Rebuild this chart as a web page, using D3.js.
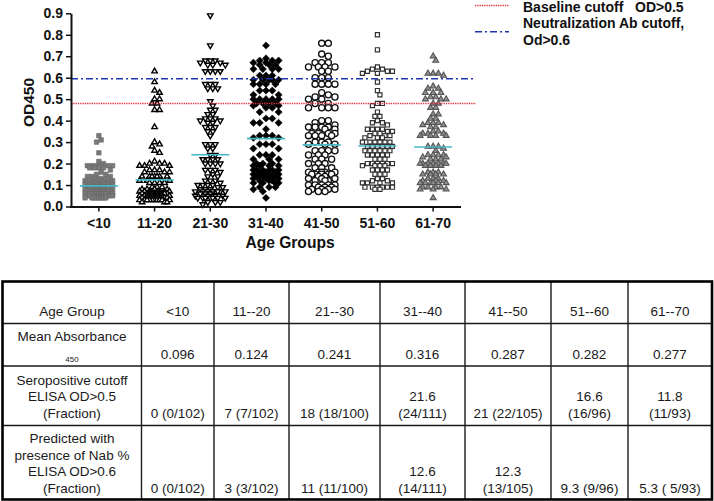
<!DOCTYPE html>
<html>
<head>
<meta charset="utf-8">
<script src="https://cdn.jsdelivr.net/npm/d3@7"></script>
<style>
  body { margin: 0; background: #fff; }
  svg { display: block; font-family: "Liberation Sans", Arial, sans-serif; }
  .tick text { font-weight: bold; font-size: 14px; fill: #111; }
</style>
</head>
<body>
<svg id="chart" width="714" height="501"></svg>
<script>
// ---- data ----
const groups = ['<10', '11-20', '21-30', '31-40', '41-50', '51-60', '61-70'];
const yTicks = [0, 0.1, 0.2, 0.3, 0.4, 0.5, 0.6, 0.7, 0.8, 0.9];

const odUnder10 = [0.33, 0.31, 0.30, 0.25, 0.21, 0.20,
  0.19, 0.19, 0.19, 0.19, 0.19, 0.19, 0.18, 0.18, 0.18, 0.18, 0.17, 0.16, 0.15, 0.15,
  0.14, 0.14, 0.14, 0.13, 0.13, 0.13, 0.13, 0.12, 0.12, 0.12, 0.12, 0.12,
  0.11, 0.11, 0.11, 0.11, 0.11, 0.11, 0.10, 0.10, 0.10, 0.10, 0.10, 0.10, 0.10,
  0.09, 0.09, 0.09, 0.09, 0.09, 0.09, 0.09, 0.09, 0.08, 0.08, 0.08, 0.08, 0.08, 0.08, 0.08, 0.08, 0.08,
  0.07, 0.07, 0.07, 0.07, 0.07, 0.07, 0.07, 0.07, 0.07, 0.07,
  0.06, 0.06, 0.06, 0.06, 0.06, 0.06, 0.06, 0.06, 0.06, 0.06,
  0.05, 0.05, 0.05, 0.05, 0.05, 0.05, 0.05, 0.05, 0.05, 0.05, 0.05, 0.05,
  0.04, 0.04, 0.04, 0.04, 0.04, 0.04, 0.04, 0.04];
const od11to20 = [0.63, 0.58, 0.54, 0.53, 0.50, 0.50, 0.48, 0.48, 0.45, 0.45,
  0.37, 0.30, 0.29, 0.28, 0.26, 0.25, 0.21, 0.20, 0.20, 0.19, 0.19, 0.20, 0.19,
  0.17, 0.17, 0.16, 0.16, 0.17, 0.16, 0.14, 0.14, 0.14, 0.14, 0.14, 0.14, 0.14,
  0.12, 0.12, 0.12, 0.12, 0.11, 0.11, 0.11, 0.11, 0.09, 0.09, 0.09, 0.08, 0.08, 0.08, 0.08,
  0.07, 0.07, 0.07, 0.07, 0.07, 0.07, 0.07, 0.07,
  0.06, 0.06, 0.06, 0.06, 0.06, 0.06, 0.06, 0.06, 0.06, 0.06,
  0.05, 0.05, 0.05, 0.05, 0.05, 0.05, 0.05, 0.05, 0.05, 0.05,
  0.04, 0.04, 0.04, 0.04, 0.04, 0.04, 0.04, 0.04, 0.04, 0.04,
  0.03, 0.03, 0.03, 0.03, 0.03, 0.03, 0.03, 0.03, 0.03, 0.03, 0.02, 0.02, 0.02];
const od21to30 = [0.89, 0.75, 0.68, 0.68, 0.67, 0.67, 0.68, 0.66, 0.66, 0.66,
  0.63, 0.63, 0.63, 0.63, 0.57, 0.57, 0.57, 0.55, 0.55, 0.55, 0.49, 0.47, 0.45, 0.45,
  0.43, 0.43, 0.41, 0.41, 0.41, 0.40, 0.40, 0.39, 0.39, 0.37, 0.37, 0.37, 0.35, 0.35, 0.33,
  0.29, 0.29, 0.29, 0.27, 0.27, 0.24, 0.24, 0.22, 0.22, 0.22, 0.22, 0.20, 0.20, 0.20, 0.20,
  0.17, 0.17, 0.17, 0.15, 0.16, 0.14, 0.14, 0.12, 0.12, 0.11, 0.12, 0.10, 0.10, 0.10, 0.10,
  0.08, 0.09, 0.08, 0.09, 0.08, 0.07, 0.07, 0.07, 0.07, 0.07, 0.07, 0.07, 0.07,
  0.05, 0.06, 0.05, 0.06, 0.05, 0.06, 0.05, 0.04, 0.04, 0.04, 0.04, 0.04, 0.04, 0.04,
  0.02, 0.02, 0.02, 0.01];
const od31to40 = [0.75, 0.69, 0.68, 0.67, 0.68, 0.67, 0.68, 0.66, 0.66, 0.66,
  0.64, 0.64, 0.64, 0.64, 0.61, 0.61, 0.61, 0.59, 0.59, 0.59, 0.59, 0.59,
  0.57, 0.57, 0.57, 0.57, 0.54, 0.54, 0.54, 0.52, 0.52, 0.50, 0.50, 0.50, 0.50, 0.50,
  0.48, 0.48, 0.48, 0.48, 0.46, 0.47, 0.46, 0.47, 0.44, 0.44, 0.41, 0.41, 0.39, 0.39, 0.39,
  0.36, 0.33, 0.33, 0.33, 0.32, 0.32, 0.29, 0.29, 0.29, 0.27, 0.27, 0.24, 0.24, 0.24,
  0.22, 0.22, 0.22, 0.20, 0.20, 0.20, 0.19, 0.19, 0.19, 0.19,
  0.17, 0.17, 0.17, 0.17, 0.17, 0.17, 0.15, 0.16, 0.15, 0.16, 0.15, 0.16, 0.15,
  0.14, 0.14, 0.14, 0.14, 0.14, 0.14, 0.14, 0.12, 0.13, 0.12, 0.13, 0.12, 0.13,
  0.11, 0.11, 0.11, 0.11, 0.09, 0.09, 0.09, 0.07, 0.08, 0.04];
const od41to50 = [0.76, 0.76, 0.71, 0.70, 0.67, 0.67, 0.67, 0.65, 0.65, 0.65, 0.65,
  0.63, 0.63, 0.60, 0.60, 0.60, 0.57, 0.57, 0.57, 0.57, 0.53, 0.51, 0.52, 0.51,
  0.50, 0.50, 0.48, 0.48, 0.46, 0.46, 0.46, 0.46, 0.40, 0.40, 0.38, 0.39,
  0.37, 0.37, 0.37, 0.37, 0.36, 0.36, 0.34, 0.34, 0.34, 0.34, 0.33, 0.33, 0.33, 0.33,
  0.30, 0.30, 0.30, 0.29, 0.29, 0.29, 0.26, 0.26, 0.26, 0.26, 0.24, 0.24, 0.24,
  0.22, 0.22, 0.22, 0.20, 0.20, 0.20, 0.18, 0.18, 0.18,
  0.16, 0.16, 0.16, 0.16, 0.16, 0.15, 0.15, 0.15, 0.15, 0.15, 0.14, 0.14,
  0.12, 0.13, 0.12, 0.13, 0.12, 0.13, 0.10, 0.10, 0.10, 0.10, 0.10,
  0.08, 0.09, 0.08, 0.09, 0.08, 0.09, 0.08, 0.07, 0.07, 0.07];
const od51to60 = [0.80, 0.73, 0.65, 0.63, 0.64, 0.63, 0.64, 0.63, 0.62, 0.62,
  0.58, 0.54, 0.52, 0.48, 0.48, 0.47, 0.44, 0.42, 0.42, 0.38, 0.39, 0.40, 0.39,
  0.36, 0.36, 0.36, 0.36, 0.34, 0.35, 0.34, 0.35, 0.32, 0.33, 0.32, 0.33, 0.32, 0.33,
  0.30, 0.30, 0.30, 0.30, 0.30, 0.30, 0.28, 0.28, 0.28, 0.28, 0.28, 0.28,
  0.26, 0.26, 0.26, 0.26, 0.26, 0.26, 0.24, 0.24, 0.24, 0.24, 0.24, 0.22, 0.22, 0.22,
  0.20, 0.20, 0.20, 0.20, 0.20, 0.20, 0.19, 0.19, 0.19, 0.19, 0.17, 0.17, 0.17, 0.17,
  0.15, 0.15, 0.15, 0.12, 0.13, 0.12, 0.13, 0.11, 0.11, 0.11, 0.11,
  0.09, 0.09, 0.09, 0.09, 0.09, 0.09, 0.08, 0.08];
const od61to70 = [0.70, 0.68, 0.62, 0.62, 0.62, 0.61, 0.56, 0.55, 0.55,
  0.53, 0.53, 0.53, 0.51, 0.51, 0.50, 0.50, 0.50, 0.48, 0.48, 0.46, 0.46, 0.43, 0.43,
  0.41, 0.41, 0.39, 0.39, 0.39, 0.37, 0.38, 0.37, 0.38, 0.34, 0.35, 0.34, 0.35, 0.34,
  0.33, 0.33, 0.33, 0.33, 0.28, 0.28, 0.28, 0.26, 0.27, 0.24, 0.24, 0.24, 0.24,
  0.22, 0.23, 0.22, 0.23, 0.22, 0.20, 0.20, 0.20, 0.20, 0.20, 0.20, 0.20,
  0.19, 0.19, 0.19, 0.19, 0.16, 0.16, 0.16, 0.15, 0.15, 0.15, 0.15,
  0.12, 0.13, 0.12, 0.13, 0.12, 0.13, 0.11, 0.11, 0.11, 0.11, 0.11, 0.11,
  0.09, 0.09, 0.09, 0.09, 0.08, 0.08, 0.08, 0.04];
const odByGroup = [odUnder10, od11to20, od21to30, od31to40, od41to50, od51to60, od61to70];

// cutoff lines as drawn (legend text says 0.5 / 0.6)
const baselineCutoff = 0.48;
const nabCutoff = 0.595;

// table
const tableGroups = ['<10', '11--20', '21--30', '31--40', '41--50', '51--60', '61--70'];
const meanAbs = [0.096, 0.124, 0.241, 0.316, 0.287, 0.282, 0.277];
const seroPct = ['0', '7', '18', '21.6', '21', '16.6', '11.8'];
const seroFrac = ['(0/102)', '(7/102)', '(18/100)', '(24/111)', '(22/105)', '(16/96)', '(11/93)'];
const nabPct = ['0', '3', '11', '12.6', '12.3', '9.3', '5.3'];
const nabFrac = ['(0/102)', '(3/102)', '(11/100)', '(14/111)', '(13/105)', '(9/96)', '( 5/93)'];

// ---- chart ----
const svg = d3.select('#chart');

const x = d3.scaleBand().domain(groups).range([71, 461]);
const y = d3.scaleLinear().domain([0, 0.9]).range([206.5, 13.3]);

const markers = [
  { shape: d3.symbolSquare, size: 20, rot: 0, fill: '#7a7a7a', stroke: '#666', sw: 0.6, gap: 4.6 },
  { shape: d3.symbolTriangle, size: 13, rot: 0, fill: '#fff', stroke: '#000', sw: 1.4, gap: 5 },
  { shape: d3.symbolTriangle, size: 13, rot: 180, fill: '#fff', stroke: '#000', sw: 1.4, gap: 5 },
  { shape: d3.symbolSquare, size: 26, rot: 45, fill: '#000', stroke: '#000', sw: 0.5, gap: 6.3 },
  { shape: d3.symbolCircle, size: 30, rot: 0, fill: '#fff', stroke: '#111', sw: 1.3, gap: 6.6 },
  { shape: d3.symbolSquare, size: 17, rot: 0, fill: '#fff', stroke: '#333', sw: 1.2, gap: 5 },
  { shape: d3.symbolTriangle, size: 15, rot: 0, fill: '#8f8f8f', stroke: '#555', sw: 1.1, gap: 5.2 }
];

// simple column scatter layout: spread points sideways until they stop touching
function swarm(values, cx, gap, half) {
  const pts = values.map(v => ({ v, py: y(v) })).sort((a, b) => a.py - b.py);
  const offs = [0];
  for (let k = 1; k * gap / 2 <= half; k++) offs.push(k * gap / 2, -k * gap / 2);
  const placed = [];
  pts.forEach(p => {
    let best = null, bestD = -1;
    for (const o of offs) {
      let dmin = Infinity;
      for (const q of placed) {
        const d = Math.hypot(q.px - (cx + o), q.py - p.py);
        if (d < dmin) dmin = d;
      }
      if (dmin >= gap * 0.95) { best = o; break; }
      if (dmin > bestD) { bestD = dmin; best = o; }
    }
    p.px = cx + best;
    placed.push(p);
  });
  return placed;
}

const plot = svg.append('g');
odByGroup.forEach((vals, i) => {
  const m = markers[i];
  const cx = x(groups[i]) + x.bandwidth() / 2;
  const pts = swarm(vals, cx, m.gap, 18 - m.gap / 2);
  plot.append('g')
    .selectAll('path')
    .data(pts)
    .enter()
    .append('path')
      .attr('d', d3.symbol().type(m.shape).size(m.size))
      .attr('transform', d => `translate(${d.px}, ${d.py}) rotate(${m.rot})`)
      .style('fill', m.fill)
      .style('stroke', m.stroke)
      .style('stroke-width', m.sw);
});

// mean lines
svg.append('g')
  .selectAll('line')
  .data(meanAbs)
  .enter()
  .append('line')
    .attr('x1', (d, i) => x(groups[i]) + x.bandwidth() / 2 - 19)
    .attr('x2', (d, i) => x(groups[i]) + x.bandwidth() / 2 + 19)
    .attr('y1', d => y(d))
    .attr('y2', d => y(d))
    .style('stroke', '#45b8c6')
    .style('stroke-width', 1.6);

// cutoff lines
const cutoffs = [
  { v: baselineCutoff, color: '#e3303a', dash: '1.3,1', w: 1.6, ly: 5.5 },
  { v: nabCutoff, color: '#1e34b0', dash: '7,3,2,3', w: 1.6, ly: 31.7 }
];
cutoffs.forEach(c => {
  svg.append('line')
    .attr('x1', 71).attr('x2', 476)
    .attr('y1', y(c.v)).attr('y2', y(c.v))
    .style('stroke', c.color).style('stroke-width', c.w)
    .style('stroke-dasharray', c.dash);
  svg.append('line')
    .attr('x1', 475).attr('x2', 509)
    .attr('y1', c.ly).attr('y2', c.ly)
    .style('stroke', c.color).style('stroke-width', c.w)
    .style('stroke-dasharray', c.dash);
});

// legend text
const legendText = svg.append('g')
  .style('font-weight', 'bold')
  .style('font-size', '14px')
  .style('fill', '#111');
legendText.append('text').attr('x', 523).attr('y', 11.5)
  .style('white-space', 'pre').text('Baseline cutoff   OD>0.5');
legendText.append('text').attr('x', 523).attr('y', 28).text('Neutralization Ab cutoff,');
legendText.append('text').attr('x', 523).attr('y', 45).text('Od>0.6');

// axes
const yAxis = svg.append('g')
  .attr('transform', 'translate(71,0)')
  .call(d3.axisLeft(y).tickValues(yTicks).tickFormat(d3.format('.1f'))
    .tickSize(5).tickSizeOuter(0).tickPadding(3));
const xAxis = svg.append('g')
  .attr('transform', 'translate(0,206.5)')
  .call(d3.axisBottom(x).tickSize(5).tickSizeOuter(0).tickPadding(6.5));
[yAxis, xAxis].forEach(a => {
  a.select('.domain').style('stroke', '#111').style('stroke-width', 2);
  a.selectAll('.tick line').style('stroke', '#111').style('stroke-width', 1.5);
  a.selectAll('.tick text').attr('font-family', null).attr('font-size', null);
});
xAxis.select('.domain').attr('d', 'M70,0.5H461');

svg.append('text')
  .attr('transform', 'translate(33.5,102.5) rotate(-90)')
  .attr('text-anchor', 'middle')
  .style('font-weight', 'bold').style('font-size', '15.5px').style('fill', '#111')
  .text('OD450');
svg.append('text')
  .attr('x', 290).attr('y', 248)
  .attr('text-anchor', 'middle')
  .style('font-weight', 'bold').style('font-size', '15.6px').style('fill', '#111')
  .text('Age Groups');

// ---- table ----
const colEdges = [2.5, 141.5, 214, 289, 380, 465, 551, 628, 712];
const rowEdges = [281.5, 323.5, 366, 425.5, 499.5];
const rowBase = [316, 359, 418, 493];
const lineH = 16.7;

const table = svg.append('g')
  .style('font-size', '13.5px')
  .style('fill', '#1a1a1a');

table.selectAll('line.v')
  .data(colEdges.slice(1, -1))
  .enter()
  .append('line')
    .attr('x1', d => d).attr('x2', d => d)
    .attr('y1', rowEdges[0]).attr('y2', rowEdges[rowEdges.length - 1])
    .style('stroke', '#1a1a1a').style('stroke-width', 1.4);
table.selectAll('line.h')
  .data(rowEdges.slice(1, -1))
  .enter()
  .append('line')
    .attr('x1', colEdges[0]).attr('x2', colEdges[colEdges.length - 1])
    .attr('y1', d => d).attr('y2', d => d)
    .style('stroke', '#1a1a1a').style('stroke-width', 1.4);
table.append('rect')
  .attr('x', colEdges[0]).attr('y', rowEdges[0])
  .attr('width', colEdges[colEdges.length - 1] - colEdges[0])
  .attr('height', rowEdges[rowEdges.length - 1] - rowEdges[0])
  .style('fill', 'none').style('stroke', '#000').style('stroke-width', 2.6);

const colMid = i => (colEdges[i] + colEdges[i + 1]) / 2;

// row labels (stacked upward from the bottom baseline)
const rowLabels = [
  ['Age Group'],
  ['Mean Absorbance'],
  ['Seropositive cutoff', 'ELISA OD>0.5', '(Fraction)'],
  ['Predicted with', 'presence of Nab %', 'ELISA OD>0.6', '(Fraction)']
];
rowLabels.forEach((lines, r) => {
  const base = r === 1 ? 341 : rowBase[r];
  lines.forEach((t, k) => {
    table.append('text')
      .attr('x', colMid(0)).attr('y', base - (lines.length - 1 - k) * lineH)
      .attr('text-anchor', 'middle').text(t);
  });
});
table.append('text')
  .attr('x', colMid(0)).attr('y', 362)
  .attr('text-anchor', 'middle').style('font-size', '8px').text('450');

function cell(col, r, main, extra) {
  const cx = colMid(col + 1);
  const w = colEdges[col + 2] - colEdges[col + 1];
  const t = table.append('text')
    .attr('x', cx).attr('y', rowBase[r])
    .attr('text-anchor', 'middle')
    .style('white-space', 'pre')
    .text(extra ? main + ' ' + extra : main);
  if (extra && t.node().getComputedTextLength() > w - 15) {
    t.text(extra);
    table.append('text')
      .attr('x', cx).attr('y', rowBase[r] - lineH)
      .attr('text-anchor', 'middle').text(main);
  }
}
tableGroups.forEach((g, i) => {
  cell(i, 0, g);
  cell(i, 1, d3.format('.3f')(meanAbs[i]));
  cell(i, 2, seroPct[i], seroFrac[i]);
  cell(i, 3, nabPct[i], nabFrac[i]);
});
</script>
</body>
</html>
